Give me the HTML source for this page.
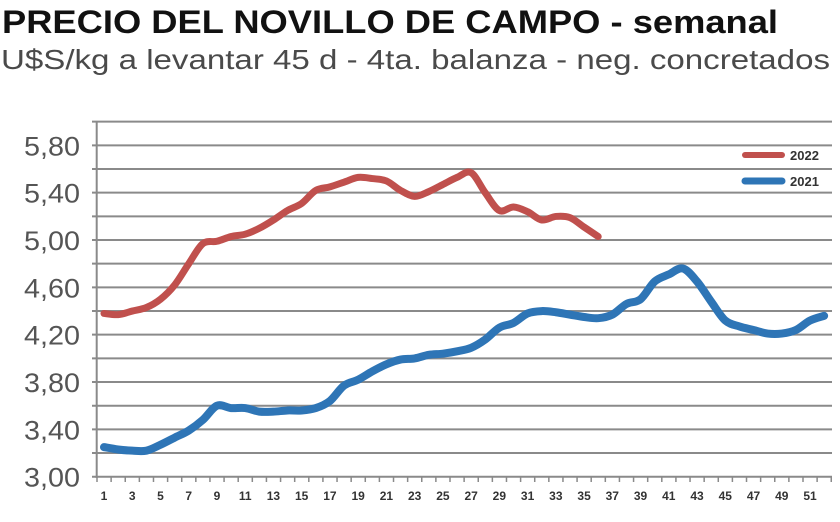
<!DOCTYPE html>
<html><head><meta charset="utf-8"><style>
html,body{margin:0;padding:0;background:#fff;width:840px;height:522px;overflow:hidden}
svg{display:block}
</style></head><body>
<svg id="s" width="840" height="522" viewBox="0 0 840 522" xmlns="http://www.w3.org/2000/svg">
<text x="2" y="33" font-family="Liberation Sans, sans-serif" font-weight="bold" font-size="32" fill="#111" textLength="776" lengthAdjust="spacingAndGlyphs">PRECIO DEL NOVILLO DE CAMPO - semanal</text>
<text x="1" y="69" font-family="Liberation Sans, sans-serif" font-size="28" fill="#4a4a4a" textLength="829" lengthAdjust="spacingAndGlyphs">U$S/kg a levantar 45 d - 4ta. balanza - neg. concretados</text>
<g id="grid"></g>
<g id="lab" font-family="Liberation Sans, sans-serif" font-size="27" fill="#555"></g>
<g id="xl" font-family="Liberation Sans, sans-serif" font-size="12" font-weight="bold" fill="#333"></g>
<line x1="745" y1="155" x2="782" y2="155" stroke="#c0504d" stroke-width="6" stroke-linecap="round"/>
<text x="790" y="160" font-family="Liberation Sans, sans-serif" font-size="13" font-weight="bold" fill="#333">2022</text>
<line x1="745" y1="181" x2="782" y2="181" stroke="#2e75b6" stroke-width="7" stroke-linecap="round"/>
<text x="790" y="186" font-family="Liberation Sans, sans-serif" font-size="13" font-weight="bold" fill="#333">2021</text>
<path id="p21" fill="none" stroke="#2e75b6" stroke-width="8" stroke-linejoin="round" stroke-linecap="round"/>
<path id="p22" fill="none" stroke="#c0504d" stroke-width="7" stroke-linejoin="round" stroke-linecap="round"/>
</svg>
<script>
var NS="http://www.w3.org/2000/svg";
function Y(v){return 476.7-(v-3)*118.3;}
function X(w){return 104+(w-1)*14.12;}
var g=document.getElementById('grid'),lab=document.getElementById('lab'),xl=document.getElementById('xl');
function el(p,t,a,txt){var e=document.createElementNS(NS,t);for(var k in a)e.setAttribute(k,a[k]);if(txt)e.textContent=txt;p.appendChild(e);return e;}
for(var i=0;i<=15;i++){var y=476.7-i*23.67;
 el(g,'line',{x1:92,x2:832,y1:y,y2:y,stroke:'#8a8a8a','stroke-width':2});
 if(i%2==0){el(lab,'text',{x:80,y:y+10,'text-anchor':'end',textLength:56,lengthAdjust:'spacingAndGlyphs'},(3+i*0.2).toFixed(2).replace('.',','));}
}
el(g,'line',{x1:96.7,x2:96.7,y1:121,y2:478,stroke:'#8a8a8a','stroke-width':2});
for(var w=0;w<=52;w++){var x=97+w*14.12;el(g,'line',{x1:x,x2:x,y1:477,y2:482,stroke:'#8a8a8a','stroke-width':1.5});}
for(var w=1;w<=51;w+=2){el(xl,'text',{x:X(w),y:500,'text-anchor':'middle'},String(w));}
var d22=[4.38,4.37,4.40,4.43,4.50,4.62,4.80,4.97,4.99,5.03,5.05,5.10,5.17,5.25,5.31,5.42,5.45,5.49,5.53,5.52,5.50,5.42,5.37,5.41,5.47,5.53,5.57,5.40,5.25,5.28,5.24,5.17,5.20,5.19,5.11,5.03];
var d21=[3.25,3.23,3.22,3.22,3.27,3.33,3.39,3.48,3.60,3.58,3.58,3.55,3.55,3.56,3.56,3.58,3.64,3.77,3.82,3.89,3.95,3.99,4.00,4.03,4.04,4.06,4.09,4.16,4.26,4.30,4.38,4.40,4.39,4.37,4.35,4.34,4.37,4.46,4.50,4.65,4.71,4.76,4.65,4.48,4.32,4.27,4.24,4.21,4.21,4.24,4.32,4.36];
function path(d){var p=d.map(function(v,i){return [X(i+1),Y(v)];});var s='M'+p[0][0]+','+p[0][1];
 for(var i=0;i<p.length-1;i++){var p0=p[i-1]||p[i],p1=p[i],p2=p[i+1],p3=p[i+2]||p2;
  var c1x=p1[0]+(p2[0]-p0[0])/6,c1y=p1[1]+(p2[1]-p0[1])/6,c2x=p2[0]-(p3[0]-p1[0])/6,c2y=p2[1]-(p3[1]-p1[1])/6;
  s+=' C'+c1x+','+c1y+' '+c2x+','+c2y+' '+p2[0]+','+p2[1];}
 return s;}
document.getElementById('p21').setAttribute('d',path(d21));
document.getElementById('p22').setAttribute('d',path(d22));
</script>
</body></html>
